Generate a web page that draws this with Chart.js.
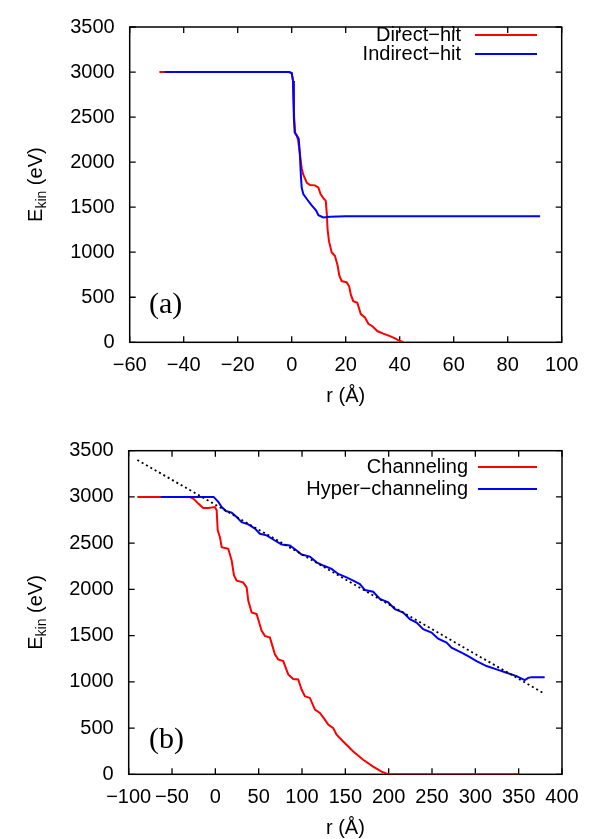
<!DOCTYPE html>
<html><head><meta charset="utf-8">
<script src="https://cdn.jsdelivr.net/npm/chart.js@4/dist/chart.umd.min.js"></script>
<style>
html,body{margin:0;padding:0;background:#fff;}
canvas{display:block;}
</style></head><body>
<div style="position:relative;width:594px;height:839px;">
<canvas id="c1" width="594" height="420" style="position:absolute;left:0;top:0"></canvas>
<canvas id="c2" width="594" height="419" style="position:absolute;left:0;top:420px"></canvas>
</div>
<script>
// ---- Panel (a) data ----
const directR   = [-49,-1,0,0.5,0.9,1.3,1.9,2.4,3.1,3.7,4.3,5.6,6.8,8.6,9.9,10.7,11.7,12.6,13.0,13.3,13.8,14.8,16.0,17.0,17.6,18.5,20.4,21.3,21.9,22.8,24.3,25.6,27.1,28.4,30,31.7,33.9,36.4,38.3,39.9,41.3];
const directE   = [3000,3000,2990,2900,2500,2320,2290,2240,2077,1933,1861,1771,1745,1742,1717,1645,1601,1572,1429,1249,1123,1000,961,853,745,680,665,619,529,457,439,313,277,205,176,125,97,68,43,17,0];
const indirectR = [-47,-1,0,0.5,0.8,1.1,1.9,2.6,3.0,3.4,3.7,4.3,5.6,7.4,9.0,9.9,11.7,14.2,20,92];
const indirectE = [3000,3000,2990,2900,2500,2330,2295,2260,2100,1850,1717,1645,1591,1519,1464,1410,1386,1393,1398,1400];

// ---- Panel (b) data ----
const chanR  = [-90,-30,-25.5,-19.7,-14,-8.2,-0.5,1.5,2.7,5.3,7.3,14.9,18.8,21.5,24.6,32,36.1,38,41.9,47.6,53.4,57.2,63,68.7,72.5,78.3,84.1,89.8,95.6,99.5,103.3,109.1,114.9,120.6,126.4,130.2,136,139.9,147.5,159.1,170.6,182.1,191.8,199.4,350];
const chanE  = [3000,3000,2983,2928,2880,2881,2891,2855,2638,2565,2457,2439,2312,2150,2095,2076,2022,1877,1750,1733,1551,1497,1478,1298,1243,1225,1080,1030,1026,917,845,826,700,663,591,537,500,428,355,247,157,84,29,0,0];
const hyperR = [-63,-2,3.4,7.3,12.2,18.8,24.6,30.3,38,45.7,51.4,59.2,68.7,76.5,86,93.8,99.5,109.1,116.8,124.5,134.1,141.8,151.4,159.1,166.8,172.6,182.1,189.9,199.5,207.2,216.8,224.4,232.2,239.8,249.5,257.1,266.8,272.5,284.1,291.7,301.4,312.9,324.5,336,347.5,357.1,361,364.8,380];
const hyperE = [3000,3000,2946,2891,2848,2830,2783,2728,2703,2657,2602,2584,2529,2486,2475,2421,2377,2355,2293,2258,2222,2167,2130,2095,2058,1993,1975,1896,1859,1787,1750,1678,1641,1570,1533,1467,1424,1370,1315,1279,1225,1171,1135,1098,1062,1018,1043,1051,1051];
const fitR = [-90,380];
const fitE = [3400,870];

// ---- axis ticks ----
const xTicksA = {min:-60, max:100, step:20};
const xTicksB = {min:-100, max:400, step:50};
const yTicks  = {min:0, max:3500, step:500};

const SANS = '"Liberation Sans", Arial, sans-serif';
const pts = (xs, ys) => xs.map((x,i)=>({x:x, y:ys[i]}));

function decorations(o){
  return {
    id:'deco',
    beforeDatasetsDraw(chart){
      const ctx = chart.ctx, a = chart.chartArea, sx = chart.scales.x, sy = chart.scales.y;
      ctx.save();
      ctx.strokeStyle = '#000'; ctx.lineWidth = 1.3;
      ctx.beginPath();
      sx.ticks.forEach(t=>{ const p = sx.getPixelForValue(t.value);
        ctx.moveTo(p,a.bottom); ctx.lineTo(p,a.bottom-6);
        ctx.moveTo(p,a.top); ctx.lineTo(p,a.top+6); });
      sy.ticks.forEach(t=>{ const p = sy.getPixelForValue(t.value);
        ctx.moveTo(a.left,p); ctx.lineTo(a.left+6,p);
        ctx.moveTo(a.right,p); ctx.lineTo(a.right-6,p); });
      ctx.stroke();
      ctx.lineWidth = 1.5;
      ctx.strokeRect(a.left, a.top, a.right-a.left, a.bottom-a.top);
      ctx.restore();
    },
    afterDraw(chart){
      const ctx = chart.ctx, a = chart.chartArea;
      ctx.save();
      // x title
      ctx.fillStyle = '#000';
      ctx.font = '20px ' + SANS;
      ctx.textAlign = 'center'; ctx.textBaseline = 'middle';
      ctx.fillText('r (Å)', (a.left+a.right)/2, o.xTitleY);
      // y title with subscript
      ctx.save();
      ctx.translate(o.yTitleX, (a.top+a.bottom)/2);
      ctx.rotate(-Math.PI/2);
      ctx.textAlign = 'left'; ctx.textBaseline = 'middle';
      const big = '20px ' + SANS, small = '14px ' + SANS;
      ctx.font = big; const w1 = ctx.measureText('E').width; const w3 = ctx.measureText(' (eV)').width;
      ctx.font = small; const w2 = ctx.measureText('kin').width;
      let s = -(w1+w2+w3)/2;
      ctx.font = big; ctx.fillText('E', s, 0); s += w1;
      ctx.font = small; ctx.fillText('kin', s, 6); s += w2;
      ctx.font = big; ctx.fillText(' (eV)', s, 0);
      ctx.restore();
      // legend
      ctx.font = '20px ' + SANS;
      ctx.textAlign = 'right'; ctx.textBaseline = 'middle';
      o.legend.forEach((L,i)=>{
        const yy = o.legY + i*o.legDy;
        ctx.fillStyle = '#000';
        ctx.fillText(L.label, o.legTextX, yy);
        ctx.strokeStyle = L.color; ctx.lineWidth = 2;
        ctx.beginPath(); ctx.moveTo(o.legLine[0], yy); ctx.lineTo(o.legLine[1], yy); ctx.stroke();
      });
      // panel label
      ctx.fillStyle = '#000';
      ctx.font = '30px "Liberation Serif", "Times New Roman", serif';
      ctx.textAlign = 'left'; ctx.textBaseline = 'middle';
      ctx.fillText(o.panel, o.panelX, o.panelY);
      ctx.restore();
    }
  };
}

function scaleOpts(xt, xH, yW){
  return {
    x:{type:'linear', min:xt.min, max:xt.max,
       grid:{display:false, drawTicks:false}, border:{display:false},
       ticks:{stepSize:xt.step, autoSkip:false, maxRotation:0, minRotation:0, color:'#000', padding:11,
              font:{family:SANS, size:20}, callback:v=>String(v).replace('-','\u2212')},
       afterFit(s){ s.height = xH; }},
    y:{type:'linear', min:yTicks.min, max:yTicks.max,
       grid:{display:false, drawTicks:false}, border:{display:false},
       ticks:{stepSize:yTicks.step, autoSkip:false, color:'#000', padding:15,
              font:{family:SANS, size:20}, callback:v=>String(v)},
       afterFit(s){ s.width = yW; }}
  };
}

const common = {
  responsive:false, animation:false,
  plugins:{legend:{display:false}, tooltip:{enabled:false}},
  elements:{point:{radius:0}, line:{tension:0}}
};

new Chart(document.getElementById('c1'), {
  type:'scatter',
  data:{datasets:[
    {label:'Indirect\u2212hit', data:pts(indirectR, indirectE), showLine:true, borderColor:'#0000ff', borderWidth:2, pointRadius:0},
    {label:'Direct\u2212hit', data:pts(directR, directE), showLine:true, borderColor:'#ff0000', borderWidth:2, pointRadius:0}
  ]},
  options:Object.assign({}, common, {
    layout:{padding:{top:18.3, right:32.3, left:0, bottom:0}},
    scales:scaleOpts(xTicksA, 420-342.3, 129.7)
  }),
  plugins:[decorations({xTitleY:396, yTitleX:36, panel:'(a)', panelX:149, panelY:305,
    legend:[{label:'Direct\u2212hit', color:'#ff0000'},{label:'Indirect\u2212hit', color:'#0000ff'}],
    legY:35, legDy:19, legTextX:461, legLine:[475,537]})]
});

new Chart(document.getElementById('c2'), {
  type:'scatter',
  data:{datasets:[
    {label:'fit', data:pts(fitR, fitE), showLine:true, borderColor:'#000', borderWidth:1.8, borderDash:[2,3], pointRadius:0},
    {label:'Hyper\u2212channeling', data:pts(hyperR, hyperE), showLine:true, borderColor:'#0000ff', borderWidth:2, pointRadius:0},
    {label:'Channeling', data:pts(chanR, chanE), showLine:true, borderColor:'#ff0000', borderWidth:2, pointRadius:0}
  ]},
  options:Object.assign({}, common, {
    layout:{padding:{top:30.7, right:32, left:0, bottom:0}},
    scales:scaleOpts(xTicksB, 419-354.3, 128.7)
  }),
  plugins:[decorations({xTitleY:408, yTitleX:36, panel:'(b)', panelX:149, panelY:320,
    legend:[{label:'Channeling', color:'#ff0000'},{label:'Hyper\u2212channeling', color:'#0000ff'}],
    legY:47, legDy:22, legTextX:468, legLine:[478,537]})]
});
</script>
</body></html>
